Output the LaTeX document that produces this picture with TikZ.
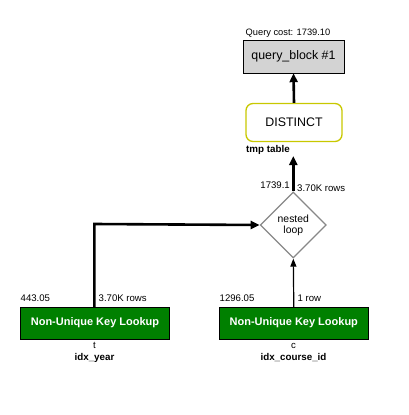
\documentclass[tikz,border=0pt]{standalone}
\usepackage{fontspec}
\setmainfont{Liberation Sans}
\usetikzlibrary{arrows.meta,shapes.geometric}
\definecolor{qgray}{HTML}{D3D3D3}
\definecolor{dgreen}{HTML}{008000}
\definecolor{dborder}{HTML}{C8C800}
\definecolor{lborder}{HTML}{888888}
\begin{document}
\begin{tikzpicture}[x=1pt,y=-1pt,
  lbl/.style={font=\fontsize{9.6}{10}\selectfont, inner sep=0pt},
  blbl/.style={font=\fontsize{9.8}{10}\selectfont\bfseries, inner sep=0pt},
  lookup/.style={draw=black, fill=dgreen, minimum width=149pt, minimum height=32pt, text=white, font=\fontsize{11}{12}\selectfont\bfseries, inner sep=0pt},
  thickarrow/.style={line width=2.6pt, -{Triangle[length=9pt,width=8pt]}},
  thinarrow/.style={line width=1.2pt, -{Triangle[length=8pt,width=6pt]}}]
\useasboundingbox (0,0) rectangle (408,415);
% top
\node[draw=black, fill=qgray, minimum width=101pt, minimum height=33pt, inner sep=0pt, font=\fontsize{12.4}{13}\selectfont] (qb) at (293.5,56.5) {query\_block \#1};
\node[lbl, font=\fontsize{9.3}{10}\selectfont, anchor=base] (qc) at (288,35) {Query cost: 1739.10};
\node[draw=dborder, line width=1.3pt, rounded corners=7pt, fill=white, minimum width=96pt, minimum height=38pt, inner sep=0pt, font=\fontsize{12.4}{13}\selectfont] (dist) at (294,122.5) {DISTINCT};
\node[blbl, anchor=base west] (tmp) at (246,152.5) {tmp table};
% diamond
\node[draw=lborder, line width=1.3pt, diamond, minimum width=66pt, minimum height=66pt, inner sep=0pt, align=center, font=\fontsize{10.4}{11}\selectfont] (nl) at (293.3,225) {nested\\loop};
\node[lbl, anchor=base east] (c1) at (290,188) {1739.1};
\node[lbl, anchor=base west] (r1) at (297,191) {3.70K rows};
% lookups
\node[lookup] (t) at (95,323) {Non-Unique Key Lookup};
\node[lookup] (c) at (293.8,323) {Non-Unique Key Lookup};
\node[lbl, anchor=base west] (tc) at (20.5,301.5) {443.05};
\node[lbl, anchor=base west] (tr) at (98.5,301.5) {3.70K rows};
\node[lbl, anchor=base west] (cc) at (219.5,301.5) {1296.05};
\node[lbl, anchor=base west] (cr) at (297.5,301.5) {1 row};
\node[lbl, anchor=base] (tn) at (94.5,348.5) {t};
\node[blbl, anchor=base] (ti) at (94.5,360) {idx\_year};
\node[lbl, anchor=base] (cn) at (293.5,348.5) {c};
\node[blbl, anchor=base] (ci) at (293.5,360) {idx\_course\_id};
% connectors
\coordinate (bend) at (94.3,224);
\coordinate (tmpend) at (293.3,156);
\draw[thickarrow] (t.north -| bend) -- (bend) -- (nl.west);
\draw[thinarrow] (c.north) -- (nl.south);
\draw[thickarrow] (nl.north) -- (tmpend);
\draw[thickarrow] (dist.north) -- (qb.south);
\end{tikzpicture}
\end{document}
